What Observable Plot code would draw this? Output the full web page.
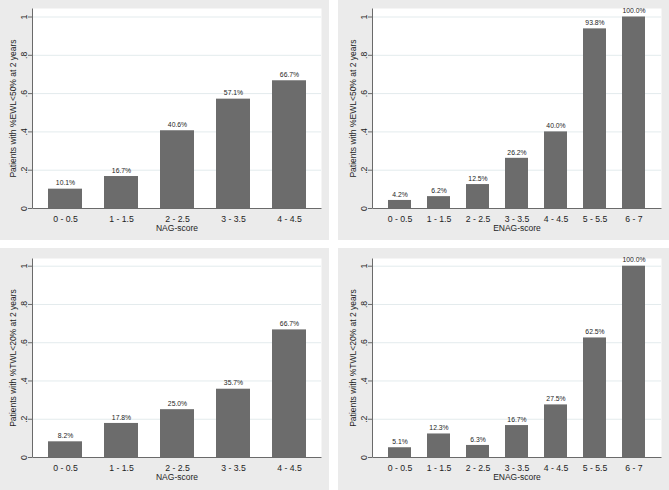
<!DOCTYPE html>
<html>
<head>
<meta charset="utf-8">
<script src="https://cdn.jsdelivr.net/npm/d3@7"></script>
<script src="https://cdn.jsdelivr.net/npm/@observablehq/plot@0.6"></script>
<style>
  html, body { margin: 0; padding: 0; background: #ffffff; }
  #wrap { position: relative; width: 669px; height: 490px; overflow: hidden; }
  .panel { position: absolute; background: #ebebeb; }
  .panel svg { display: block; background: #ebebeb; }
</style>
</head>
<body>
<div id="wrap"></div>
<script>
// ---- data ----
const nagCategories = ["0 - 0.5", "1 - 1.5", "2 - 2.5", "3 - 3.5", "4 - 4.5"];
const enagCategories = ["0 - 0.5", "1 - 1.5", "2 - 2.5", "3 - 3.5", "4 - 4.5", "5 - 5.5", "6 - 7"];
const nagEwl = [0.101, 0.167, 0.406, 0.571, 0.667];
const enagEwl = [0.042, 0.062, 0.125, 0.262, 0.400, 0.938, 1.000];
const nagTwl = [0.082, 0.178, 0.250, 0.357, 0.667];
const enagTwl = [0.051, 0.123, 0.063, 0.167, 0.275, 0.625, 1.000];
const yTicks = [0, 0.2, 0.4, 0.6, 0.8, 1];
const yTickLabels = ["0", ".2", ".4", ".6", ".8", "1"];
const ewlTitle = "Patients with %EWL<50% at 2 years";
const twlTitle = "Patients with %TWL<20% at 2 years";
const nagTitle = "NAG-score";
const enagTitle = "ENAG-score";

const FONT = "'Liberation Sans', Arial, sans-serif";
const BAR = "#6c6c6c";
const GRID = "#e3ebed";
const AXIS = "#6a6a6a";
const TEXT = "#1e1e1e";

function panel(cfg) {
  const {cats, vals, xTitle, yTitle, left, top, width, height, ml, mr, mt, mb, po, yMax} = cfg;
  const data = cats.map((c, i) => ({cat: c, value: vals[i], label: (vals[i] * 100).toFixed(1) + "%"}));
  const w = width - ml - mr, h = height - mt - mb;
  const chart = Plot.plot({
    width, height,
    marginLeft: ml, marginRight: mr, marginTop: mt, marginBottom: mb,
    style: {fontFamily: FONT, background: "#ebebeb", color: TEXT},
    x: {type: "band", domain: cats, paddingInner: 0.4, paddingOuter: po},
    y: {domain: [0, yMax]},
    marks: [
      Plot.frame({fill: "white"}),
      Plot.gridY(yTicks, {stroke: GRID, strokeOpacity: 1, strokeWidth: 1}),
      Plot.barY(data, {x: "cat", y: "value", fill: BAR}),
      Plot.frame({stroke: AXIS, strokeWidth: 1, strokeDasharray: `0,${w + h},${w + h}`}),
      Plot.axisY(yTicks, {
        tickFormat: (d) => yTickLabels[yTicks.indexOf(d)],
        tickSize: 4, tickRotate: -90, tickPadding: 1.5,
        stroke: AXIS, fontSize: 8.7, fill: TEXT, label: null
      }),
      Plot.axisX({tickSize: 0, tickPadding: 7, fontSize: 8.7, fill: TEXT, label: null}),
      Plot.text(data, {x: "cat", y: "value", text: "label", dy: -6, fontSize: 6.8, fill: TEXT}),
      Plot.text([xTitle], {frameAnchor: "bottom", dy: 22, fontSize: 8.5, fill: TEXT, textAnchor: "middle"}),
      Plot.text([yTitle], {frameAnchor: "left", dx: -19, rotate: -90, fontSize: 8.5, fill: TEXT, textAnchor: "middle"})
    ]
  });
  const div = document.createElement("div");
  div.className = "panel";
  div.style.left = left + "px";
  div.style.top = top + "px";
  div.style.width = width + "px";
  div.style.height = height + "px";
  div.appendChild(chart);
  document.getElementById("wrap").appendChild(div);
}

panel({cats: nagCategories, vals: nagEwl, xTitle: nagTitle, yTitle: ewlTitle,
  left: 0, top: 0, width: 329, height: 240, ml: 32, mr: 8, mt: 8, mb: 32, po: 0.27, yMax: 200 / 191.5});
panel({cats: enagCategories, vals: enagEwl, xTitle: enagTitle, yTitle: ewlTitle,
  left: 338, top: 0, width: 331, height: 240, ml: 34, mr: 8, mt: 8, mb: 32, po: 0.34, yMax: 200 / 191.5});
panel({cats: nagCategories, vals: nagTwl, xTitle: nagTitle, yTitle: twlTitle,
  left: 0, top: 248, width: 329, height: 242, ml: 32, mr: 8, mt: 10, mb: 33, po: 0.27, yMax: 199 / 191.3});
panel({cats: enagCategories, vals: enagTwl, xTitle: enagTitle, yTitle: twlTitle,
  left: 338, top: 248, width: 331, height: 242, ml: 34, mr: 8, mt: 10, mb: 33, po: 0.34, yMax: 199 / 191.3});
</script>
</body>
</html>
